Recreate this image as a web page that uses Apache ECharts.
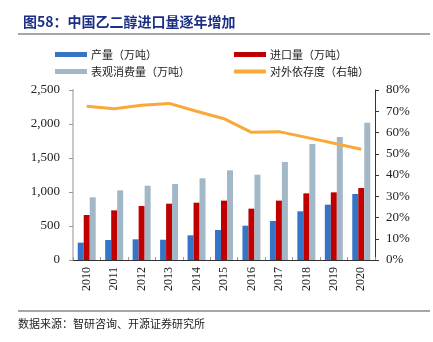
<!DOCTYPE html>
<html><head><meta charset="utf-8">
<script src="https://cdn.jsdelivr.net/npm/echarts@6/dist/echarts.min.js"></script>
<style>html,body{margin:0;padding:0;background:#fff}#c{width:433px;height:342px}</style>
</head><body><div id="c"></div>
<script>
const years = ['2010','2011','2012','2013','2014','2015','2016','2017','2018','2019','2020'];
const production = [255, 294, 304, 298, 363, 441, 505, 574, 716, 814, 971];
const imports = [662, 730, 794, 828, 843, 873, 755, 873, 980, 995, 1059];
const consumption = [922, 1025, 1093, 1118, 1201, 1319, 1255, 1441, 1706, 1809, 2020];
const dependence = [72.3, 71.2, 72.8, 73.7, 70.0, 66.5, 60.1, 60.4, 57.7, 54.9, 52.1];
const names = ['产量（万吨）','进口量（万吨）','表观消费量（万吨）','对外依存度（右轴）'];

const chart = echarts.init(document.getElementById('c'));
const serif = '"Liberation Serif","Times New Roman",serif';
const cjk = '"Noto Sans CJK SC",sans-serif';
const legendBase = {itemWidth:32, itemHeight:5, itemGap:0, textStyle:{fontFamily:cjk, fontSize:11, color:'#222', padding:[0,0,0,-1]}, padding:0};
chart.setOption({
  animation:false,
  title:{text:'图58：中国乙二醇进口量逐年增加', left:18, top:10,
    textStyle:{fontFamily:cjk, fontSize:14, fontWeight:'bold', color:'#1c2f86'}},
  graphic:[
    {type:'line', shape:{x1:18,y1:34,x2:430,y2:34}, style:{stroke:'#8a8a8a', lineWidth:1.5}},
    {type:'line', shape:{x1:18,y1:311,x2:430,y2:311}, style:{stroke:'#8a8a8a', lineWidth:1.5}},
    {type:'text', left:18, top:318, style:{text:'数据来源：智研咨询、开源证券研究所', font:'11px "Noto Sans CJK SC"', fill:'#222'}}
  ],
  legend:[
    Object.assign({}, legendBase, {left:55, top:49, data:[{name:names[0], icon:'rect'}]}),
    Object.assign({}, legendBase, {left:234, top:49, data:[{name:names[1], icon:'rect'}]}),
    Object.assign({}, legendBase, {left:55, top:66, data:[{name:names[2], icon:'rect'}]}),
    Object.assign({}, legendBase, {left:234, top:66, itemHeight:4, data:[{name:names[3], icon:'roundRect'}]})
  ],
  grid:{left:73, right:58, top:90, bottom:82},
  xAxis:{type:'category', data:years, boundaryGap:true,
    axisLine:{lineStyle:{color:'#333', width:1}},
    axisTick:{show:true, inside:true, length:3, lineStyle:{color:'#999'}},
    axisLabel:{rotate:90, fontFamily:serif, fontSize:12, color:'#222', margin:7}},
  yAxis:[
    {type:'value', min:0, max:2500, interval:500,
      axisLine:{show:true, lineStyle:{color:'#c8c8c8', width:2}},
      axisTick:{show:true, length:4, lineStyle:{color:'#999'}},
      splitLine:{show:false},
      axisLabel:{fontFamily:serif, fontSize:13, color:'#222', margin:13,
        formatter:v=>v.toLocaleString('en-US')}},
    {type:'value', min:0, max:80, interval:10,
      axisLine:{show:true, lineStyle:{color:'#333', width:1}},
      axisTick:{show:true, length:4, lineStyle:{color:'#333'}},
      splitLine:{show:false},
      axisLabel:{fontFamily:serif, fontSize:13, color:'#222', margin:11, formatter:'{value}%'}}
  ],
  series:[
    {name:names[0], type:'bar', data:production, barWidth:6, barGap:'0%', itemStyle:{color:'#3574c6'}},
    {name:names[1], type:'bar', data:imports, barWidth:6, barGap:'0%', itemStyle:{color:'#c00000'}},
    {name:names[2], type:'bar', data:consumption, barWidth:6, barGap:'0%', barCategoryGap:'27%', itemStyle:{color:'#a3b8c6'}},
    {name:names[3], type:'line', yAxisIndex:1, data:dependence, symbol:'none',
      lineStyle:{color:'#f9a83a', width:3}, itemStyle:{color:'#f9a83a'}}
  ]
});
</script></body></html>
